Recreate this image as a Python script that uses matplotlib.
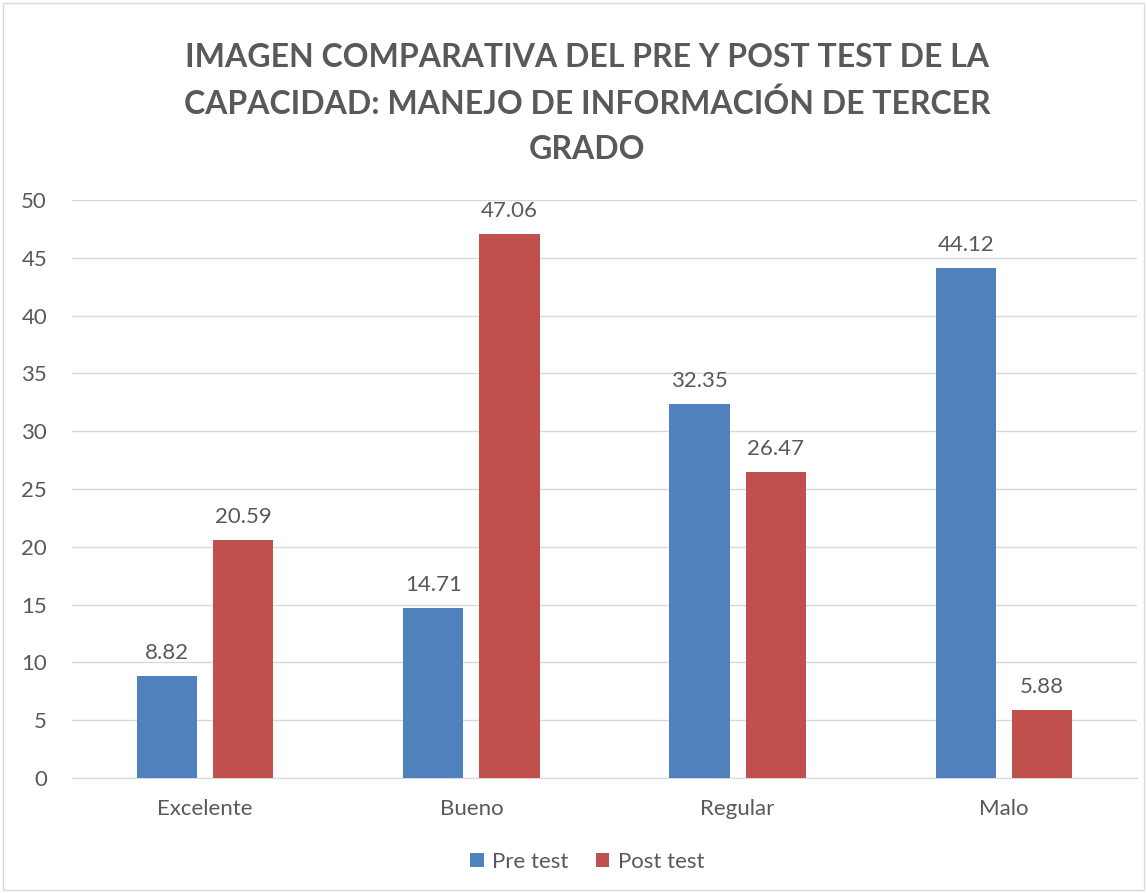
import numpy as np
import matplotlib.pyplot as plt
from matplotlib.patches import Rectangle

# datos
categorias = ['Excelente', 'Bueno', 'Regular', 'Malo']
pre_test = [8.82, 14.71, 32.35, 44.12]
post_test = [20.59, 47.06, 26.47, 5.88]
y_ticks = [0, 5, 10, 15, 20, 25, 30, 35, 40, 45, 50]

titulo = 'IMAGEN COMPARATIVA DEL PRE Y POST TEST DE LA\nCAPACIDAD: MANEJO DE INFORMACIÓN DE TERCER\nGRADO'

plt.rcParams['font.family'] = ['Lato', 'DejaVu Sans']
gris = '#595959'
azul = '#4F81BD'
rojo = '#C0504D'

fig = plt.figure(figsize=(11.47, 8.93), dpi=100)
ax = fig.add_axes([0.0628, 0.1288, 0.9285, 0.6472])

x = np.arange(len(categorias))
ancho = 0.226
desp = 0.143
b1 = ax.bar(x - desp, pre_test, ancho, color=azul, label='Pre test', zorder=3)
b2 = ax.bar(x + desp, post_test, ancho, color=rojo, label='Post test', zorder=3)

for barras, vals in [(b1, pre_test), (b2, post_test)]:
    for b, v in zip(barras, vals):
        ax.text(b.get_x() + b.get_width() / 2, v + 1.1, f'{v:.2f}',
                ha='center', va='bottom', fontsize=16, color=gris)

ax.set_xlim(-0.5, 3.5)
ax.set_ylim(0, 50)
ax.set_yticks(y_ticks)
ax.set_xticks(x)
ax.set_xticklabels(categorias)
ax.tick_params(axis='both', length=0, labelsize=16, colors=gris)
ax.tick_params(axis='x', pad=15)
ax.tick_params(axis='y', pad=18)
ax.grid(axis='y', color='#D9D9D9', linewidth=1, zorder=0)
for s in ['top', 'right', 'left']:
    ax.spines[s].set_visible(False)
ax.spines['bottom'].set_color('#D9D9D9')

fig.text(0.512, 0.952, titulo, ha='center', va='top', fontsize=23,
         fontweight='bold', color=gris, linespacing=1.65)

fig.legend(handles=[b1, b2], loc='center', bbox_to_anchor=(0.512, 0.035),
           ncol=2, frameon=False, fontsize=16, labelcolor=gris,
           handlelength=0.6, handleheight=0.6, handletextpad=0.4, columnspacing=1.2)

fig.patches.append(Rectangle((0.003, 0.003), 0.994, 0.994, transform=fig.transFigure,
                             fill=False, edgecolor='#D9D9D9', linewidth=1))

plt.savefig('out.png', dpi=100)
